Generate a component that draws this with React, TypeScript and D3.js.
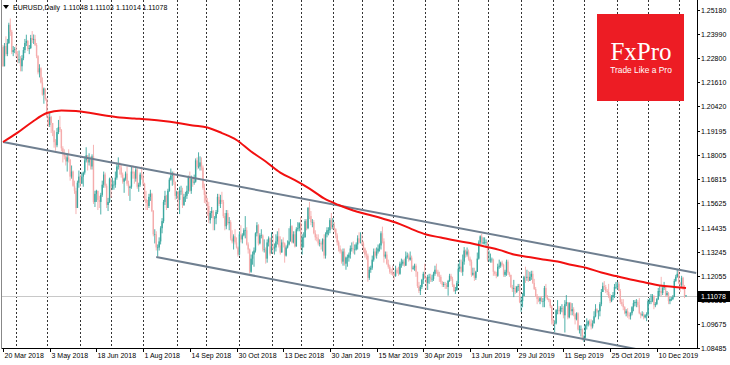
import React, { useEffect, useRef } from 'react';
import * as d3 from 'd3';

// EURUSD daily bars, 20 Mar 2018 .. 9 Jan 2020, prices x 10000
const firstOpen = 12335;

const closes = [
  // 2018
  12240, 12340, 12300, 12355, 12445, 12410, 12310, 12320, 12325,
  12300, 12270, 12275, 12240, 12280, 12320, 12355, 12365, 12325, 12330, 12380, 12370, 12375, 12345, 12290, 12210, 12230, 12160, 12100, 12130, 12078,
  11990, 11950, 11990, 11960, 11920, 11865, 11850, 11915, 11940, 11925, 11835, 11810, 11795, 11770, 11790, 11780, 11695, 11720, 11650, 11625, 11540, 11665, 11695,
  11660, 11695, 11715, 11775, 11800, 11765, 11780, 11745, 11795, 11570, 11610, 11625, 11580, 11570, 11605, 11655, 11705, 11650, 11555, 11570, 11685,
  11640, 11655, 11655, 11690, 11745, 11750, 11740, 11705, 11670, 11685, 11710, 11660, 11640, 11645, 11720, 11710, 11685, 11730, 11645, 11655, 11705, 11690,
  11660, 11585, 11565, 11550, 11595, 11610, 11525, 11410, 11410, 11345, 11345, 11375, 11440, 11475, 11570, 11600, 11540, 11625, 11680, 11700, 11705, 11670, 11600,
  11620, 11580, 11625, 11625, 11555, 11595, 11600, 11625, 11690, 11625, 11685, 11665, 11670, 11775, 11745, 11745, 11765, 11740, 11640, 11605,
  11575, 11550, 11480, 11515, 11525, 11490, 11490, 11520, 11595, 11560, 11580, 11570, 11500, 11450, 11515, 11465, 11470, 11390, 11375, 11400, 11370, 11345, 11310,
  11410, 11385, 11405, 11430, 11430, 11360, 11335, 11225, 11290, 11310, 11330, 11415, 11455, 11365, 11405, 11405, 11335, 11335, 11290, 11370, 11390, 11315,
  11350, 11340, 11345, 11375, 11400, 11355, 11320, 11370, 11365, 11305, 11345, 11360, 11375, 11450, 11370, 11410, 11350, 11435, 11440, 11465,
  // 2019
  11345, 11395, 11395, 11475, 11440, 11540, 11500, 11470, 11470, 11415, 11395, 11390, 11365, 11365, 11360, 11385, 11305, 11410, 11430, 11430, 11480, 11445,
  11455, 11435, 11405, 11370, 11340, 11325, 11275, 11325, 11265, 11295, 11295, 11310, 11340, 11340, 11335, 11335, 11360, 11390, 11370, 11370,
  11365, 11340, 11310, 11305, 11195, 11235, 11245, 11285, 11325, 11305, 11325, 11340, 11355, 11415, 11375, 11300, 11310, 11265, 11250, 11225, 11220,
  11215, 11205, 11235, 11220, 11215, 11265, 11265, 11275, 11255, 11300, 11305, 11285, 11295, 11240, 11245, 11255, 11225, 11155, 11130, 11150, 11185, 11215,
  11195, 11170, 11200, 11200, 11190, 11190, 11215, 11235, 11225, 11205, 11200, 11175, 11160, 11165, 11160, 11150, 11180, 11205, 11190, 11160, 11130, 11135, 11170,
  11240, 11250, 11225, 11275, 11330, 11310, 11325, 11290, 11275, 11210, 11220, 11195, 11225, 11290, 11370, 11400, 11365, 11370, 11370, 11370,
  11285, 11285, 11285, 11285, 11225, 11215, 11205, 11250, 11255, 11270, 11260, 11210, 11225, 11275, 11220, 11210, 11150, 11140, 11145, 11125, 11150, 11155, 11075,
  11080, 11105, 11200, 11195, 11200, 11180, 11200, 11215, 11170, 11140, 11105, 11090, 11080, 11095, 11080, 11080, 11145, 11100, 11090, 11085, 11055, 10985,
  10970, 10970, 11035, 11035, 11030, 11045, 11045, 11010, 11065, 11075, 11000, 11070, 11030, 11040, 11015, 10990, 11020, 10940, 10940, 10940, 10900,
  10900, 10960, 10965, 10980, 10970, 10955, 10970, 11005, 11040, 11030, 11030, 11065, 11125, 11155, 11150, 11130, 11125, 11105, 11080, 11100, 11110, 11150, 11150,
  11165, 11130, 11075, 11065, 11050, 11020, 11030, 11010, 11005, 11020, 11050, 11070, 11075, 11075, 11060, 11020, 11010, 11015, 11000, 11010, 11015,
  11080, 11080, 11080, 11105, 11060, 11065, 11090, 11130, 11130, 11120, 11145, 11150, 11110, 11120, 11080, 11090, 11090, 11100, 11180, 11200, 11215,
  // 2020
  11170, 11160, 11195, 11150, 11105, 11107.8,
];

const highs = [
  12345, 12355, 12388, 12375, 12455, 12476, 12420, 12340, 12335,
  12345, 12315, 12318, 12290, 12295, 12335, 12375, 12396, 12370, 12345, 12395, 12414, 12397, 12395, 12355, 12295, 12250, 12235, 12185, 12135, 12130,
  12085, 12015, 12010, 11995, 11960, 11925, 11880, 11935, 11975, 11995, 11930, 11845, 11830, 11810, 11810, 11830, 11780, 11750, 11725, 11675, 11640, 11675, 11725,
  11705, 11715, 11720, 11795, 11840, 11800, 11810, 11795, 11805, 11852, 11625, 11630, 11625, 11600, 11615, 11675, 11720, 11715, 11660, 11590, 11690,
  11690, 11690, 11675, 11720, 11765, 11790, 11765, 11755, 11715, 11690, 11720, 11745, 11675, 11650, 11745, 11750, 11720, 11745, 11740, 11665, 11715, 11745,
  11710, 11665, 11625, 11580, 11610, 11630, 11615, 11530, 11435, 11425, 11360, 11395, 11450, 11490, 11580, 11625, 11605, 11635, 11690, 11735, 11720, 11720, 11670,
  11625, 11625, 11645, 11650, 11640, 11610, 11620, 11650, 11700, 11720, 11700, 11695, 11705, 11785, 11790, 11815, 11795, 11790, 11750, 11660,
  11625, 11590, 11570, 11525, 11545, 11530, 11500, 11530, 11610, 11610, 11605, 11620, 11580, 11515, 11530, 11530, 11495, 11480, 11430, 11410, 11435, 11395, 11350,
  11425, 11455, 11415, 11440, 11500, 11445, 11370, 11340, 11310, 11325, 11345, 11420, 11470, 11460, 11415, 11435, 11410, 11385, 11345, 11385, 11400, 11395,
  11420, 11410, 11365, 11410, 11425, 11440, 11400, 11385, 11395, 11370, 11355, 11380, 11440, 11485, 11455, 11425, 11425, 11445, 11470, 11470,
  11495, 11410, 11420, 11485, 11485, 11545, 11570, 11525, 11485, 11480, 11430, 11410, 11410, 11385, 11375, 11390, 11410, 11420, 11445, 11445, 11490, 11515,
  11490, 11470, 11440, 11415, 11380, 11355, 11335, 11340, 11340, 11300, 11310, 11320, 11355, 11370, 11375, 11360, 11370, 11405, 11420, 11420,
  11410, 11375, 11345, 11330, 11315, 11250, 11255, 11305, 11340, 11340, 11345, 11360, 11365, 11425, 11448, 11390, 11325, 11325, 11285, 11260, 11240,
  11255, 11225, 11255, 11245, 11250, 11275, 11290, 11285, 11290, 11325, 11320, 11315, 11325, 11305, 11255, 11265, 11265, 11225, 11175, 11160, 11190, 11225,
  11265, 11200, 11210, 11215, 11215, 11210, 11225, 11255, 11265, 11235, 11225, 11210, 11180, 11175, 11175, 11170, 11185, 11215, 11215, 11200, 11165, 11150, 11180,
  11265, 11285, 11285, 11310, 11347, 11335, 11345, 11335, 11300, 11285, 11245, 11245, 11230, 11320, 11380, 11405, 11412, 11395, 11395, 11385,
  11375, 11330, 11315, 11295, 11290, 11230, 11225, 11265, 11285, 11275, 11280, 11265, 11235, 11285, 11285, 11225, 11210, 11160, 11185, 11155, 11155, 11165, 11165,
  11100, 11120, 11205, 11250, 11235, 11230, 11225, 11230, 11230, 11190, 11150, 11115, 11105, 11100, 11105, 11095, 11155, 11165, 11110, 11095, 11090, 11060,
  10995, 10985, 11040, 11085, 11055, 11055, 11065, 11055, 11085, 11110, 11050, 11075, 11075, 11070, 11050, 11020, 11025, 11025, 10960, 10960, 10945,
  10910, 10965, 10995, 10985, 10990, 10990, 10985, 11030, 11065, 11045, 11035, 11075, 11140, 11172, 11179, 11160, 11140, 11165, 11115, 11110, 11125, 11165, 11175,
  11175, 11175, 11140, 11090, 11090, 11055, 11040, 11045, 11025, 11025, 11055, 11085, 11085, 11090, 11085, 11095, 11025, 11030, 11025, 11015, 11025,
  11090, 11095, 11115, 11115, 11110, 11075, 11095, 11145, 11155, 11200, 11160, 11175, 11155, 11130, 11125, 11100, 11100, 11110, 11190, 11210, 11239,
  11230, 11175, 11205, 11200, 11160, 11110.3,
];

const lows = [
  12238, 12240, 12290, 12290, 12350, 12390, 12300, 12290, 12305,
  12285, 12255, 12255, 12215, 12215, 12270, 12305, 12340, 12315, 12300, 12325, 12355, 12350, 12340, 12280, 12200, 12185, 12155, 12095, 12055, 12070,
  11985, 11940, 11940, 11910, 11895, 11838, 11823, 11840, 11905, 11915, 11820, 11765, 11780, 11750, 11720, 11765, 11675, 11685, 11645, 11610, 11510, 11540, 11640,
  11645, 11660, 11645, 11705, 11765, 11725, 11750, 11730, 11730, 11560, 11545, 11570, 11530, 11540, 11508, 11595, 11640, 11640, 11540, 11525, 11565,
  11590, 11630, 11630, 11640, 11680, 11730, 11705, 11690, 11660, 11615, 11675, 11650, 11600, 11575, 11635, 11685, 11660, 11670, 11635, 11620, 11645, 11680,
  11650, 11575, 11530, 11530, 11540, 11575, 11520, 11400, 11365, 11330, 11301, 11330, 11360, 11415, 11465, 11555, 11530, 11540, 11620, 11675, 11650, 11655, 11580,
  11585, 11530, 11510, 11605, 11540, 11550, 11570, 11585, 11610, 11620, 11610, 11645, 11655, 11665, 11730, 11735, 11725, 11725, 11630, 11565,
  11560, 11500, 11465, 11463, 11490, 11430, 11430, 11460, 11510, 11550, 11540, 11560, 11490, 11430, 11435, 11455, 11430, 11380, 11365, 11335, 11360, 11340, 11300,
  11305, 11370, 11365, 11400, 11390, 11355, 11315, 11216, 11220, 11260, 11250, 11320, 11400, 11355, 11360, 11390, 11325, 11320, 11265, 11270, 11350, 11305,
  11335, 11315, 11310, 11325, 11360, 11345, 11310, 11320, 11345, 11270, 11300, 11340, 11355, 11385, 11365, 11365, 11345, 11360, 11425, 11425,
  11335, 11310, 11345, 11395, 11430, 11435, 11485, 11455, 11445, 11410, 11380, 11375, 11355, 11350, 11335, 11325, 11290, 11290, 11395, 11405, 11415, 11435,
  11435, 11420, 11390, 11355, 11325, 11315, 11265, 11255, 11255, 11235, 11250, 11275, 11290, 11325, 11315, 11310, 11330, 11335, 11365, 11365,
  11355, 11320, 11295, 11285, 11176, 11185, 11220, 11235, 11275, 11295, 11290, 11315, 11325, 11335, 11365, 11270, 11290, 11260, 11240, 11215, 11210,
  11205, 11183, 11200, 11215, 11205, 11210, 11245, 11255, 11250, 11260, 11290, 11275, 11280, 11225, 11235, 11230, 11200, 11145, 11120, 11110, 11140, 11165,
  11190, 11135, 11135, 11165, 11175, 11175, 11180, 11205, 11215, 11200, 11175, 11165, 11150, 11150, 11140, 11140, 11107, 11175, 11180, 11150, 11125, 11115, 11130,
  11165, 11225, 11220, 11205, 11260, 11295, 11300, 11280, 11255, 11200, 11205, 11180, 11185, 11225, 11285, 11360, 11360, 11360, 11360, 11345,
  11275, 11275, 11270, 11270, 11205, 11205, 11193, 11200, 11240, 11245, 11250, 11200, 11200, 11205, 11210, 11200, 11145, 11125, 11100, 11115, 11120, 11130, 11070,
  11027, 11050, 11105, 11170, 11180, 11175, 11185, 11185, 11165, 11135, 11100, 11065, 11075, 11065, 11075, 11050, 11050, 11095, 11085, 11075, 11045, 10965,
  10960, 10926, 10965, 11015, 11015, 11015, 11025, 10995, 10925, 11055, 10990, 10995, 11010, 11010, 11005, 10965, 10985, 10935, 10920, 10905, 10885,
  10879, 10895, 10940, 10955, 10960, 10940, 10945, 10975, 11000, 11020, 10990, 11005, 11055, 11125, 11135, 11120, 11110, 11095, 11070, 11075, 11085, 11095, 11140,
  11135, 11130, 11065, 11055, 11035, 11015, 11005, 10998, 10990, 10989, 11010, 11030, 11055, 11050, 11050, 11015, 10995, 11005, 10990, 10995, 10981,
  11005, 11065, 11065, 11075, 11040, 11050, 11060, 11085, 11105, 11105, 11110, 11135, 11100, 11105, 11065, 11065, 11080, 11085, 11100, 11175, 11195,
  11165, 11125, 11150, 11135, 11095, 11101.4,
];

// 200-day moving average, read every 10 bars (last one at the final bar)
const maBars = [...d3.range(0, 461, 10), 468];
const maValues = [
  1.1866, 1.1912, 1.1965, 1.2009, 1.2022, 1.2019, 1.2009, 1.1997, 1.1987, 1.1982,
  1.1977, 1.1970, 1.1960, 1.1948, 1.1938, 1.1910, 1.1876, 1.1819, 1.1770, 1.1715,
  1.1678, 1.1636, 1.1587, 1.1555, 1.1528, 1.1508, 1.1488, 1.1466, 1.1436, 1.1409,
  1.1394, 1.1379, 1.1367, 1.1350, 1.1333, 1.1310, 1.1298, 1.1286, 1.1276, 1.1258,
  1.1244, 1.1221, 1.1204, 1.1187, 1.1172, 1.1157, 1.1150, 1.1145,
];

// trend channel: [bar index, price]
const upperChannel = [[0, 1.1866], [475, 1.1219]];
const lowerChannel = [[105, 1.1298], [437, 1.0839]];

const priceTicks = ['1.25180', '1.23990', '1.22800', '1.21610', '1.20420', '1.19195', '1.18005', '1.16815',
  '1.15625', '1.14435', '1.13245', '1.12055', '1.10865', '1.09675', '1.08485'];
const dateTicks = ['20 Mar 2018', '3 May 2018', '18 Jun 2018', '1 Aug 2018', '14 Sep 2018', '30 Oct 2018',
  '13 Dec 2018', '30 Jan 2019', '15 Mar 2019', '30 Apr 2019', '13 Jun 2019', '29 Jul 2019', '11 Sep 2019',
  '25 Oct 2019', '10 Dec 2019'];

const lastPrice = '1.11078';
const headerSymbol = 'EURUSD,Daily';
const headerQuotes = ['1.11048', '1.11103', '1.11014', '1.11078'];

const W = 730;
const H = 365;
const FONT = '"Liberation Sans", Arial, sans-serif';
const BULL = '#3aa79f';
const BEAR = '#f5acac';

// trading calendar (no weekends, no 25 Dec / 1 Jan)
const tradingDays = (start, count) => {
  const out = [];
  const d = new Date(start);
  while (out.length < count) {
    const wd = d.getUTCDay();
    const md = d.getUTCMonth() * 100 + d.getUTCDate();
    if (wd !== 0 && wd !== 6 && md !== 1125 && md !== 1) out.push(new Date(d));
    d.setUTCDate(d.getUTCDate() + 1);
  }
  return out;
};

const App = () => {
  const svgRef = useRef(null);

  useEffect(() => {
    const svg = d3.select(svgRef.current);
    svg.selectAll('*').remove();

    const plot = { left: 2, right: 697, top: 0, bottom: 348 };
    const n = closes.length;
    const dates = tradingDays(Date.UTC(2018, 2, 20), n);

    const bars = closes.map((c, i) => ({
      open: (i === 0 ? firstOpen : closes[i - 1]) / 1e4,
      close: c / 1e4,
      high: highs[i] / 1e4,
      low: lows[i] / 1e4,
    }));

    const x = d3.scaleLinear().domain([0, n - 1]).range([3, 686]);
    const y = d3.scaleLinear().domain([1.08485, 1.2518]).range([348, 10]);

    svg.append('rect').attr('width', W).attr('height', H).attr('fill', '#fff');

    const defs = svg.append('defs');
    defs.append('clipPath').attr('id', 'plotClip')
      .append('rect')
      .attr('x', plot.left).attr('y', plot.top)
      .attr('width', plot.right - plot.left).attr('height', plot.bottom - plot.top);

    // monthly separators
    const monthStarts = dates.map((d, i) => i).filter(i => i > 0 && dates[i].getUTCMonth() !== dates[i - 1].getUTCMonth());
    svg.append('g').selectAll('line').data(monthStarts).enter().append('line')
      .attr('x1', i => Math.round(x(i)) + 0.5).attr('x2', i => Math.round(x(i)) + 0.5)
      .attr('y1', plot.top).attr('y2', plot.bottom)
      .attr('stroke', '#333').attr('stroke-width', 1).attr('stroke-dasharray', '2,2');

    // logo
    const logo = svg.append('g');
    logo.append('rect').attr('x', 597).attr('y', 14).attr('width', 87).attr('height', 87).attr('fill', '#ed1c24');
    logo.append('text').attr('x', 641).attr('y', 60).attr('text-anchor', 'middle')
      .attr('font-family', '"Liberation Serif", "Times New Roman", serif').attr('font-size', 25)
      .attr('fill', '#fff').text('FxPro');
    logo.append('text').attr('x', 641).attr('y', 73).attr('text-anchor', 'middle')
      .attr('font-family', FONT).attr('font-size', 8.4).attr('fill', '#fff').text('Trade Like a Pro');

    // current price line
    svg.append('line')
      .attr('x1', plot.left).attr('x2', plot.right)
      .attr('y1', Math.round(y(+lastPrice)) + 0.5).attr('y2', Math.round(y(+lastPrice)) + 0.5)
      .attr('stroke', '#c8c8c8').attr('stroke-width', 1);

    const g = svg.append('g').attr('clip-path', 'url(#plotClip)');

    // candles
    const candle = g.selectAll('.candle').data(bars).enter().append('g').attr('class', 'candle');
    candle.append('line')
      .attr('x1', (d, i) => x(i)).attr('x2', (d, i) => x(i))
      .attr('y1', d => y(Math.max(d.high, d.open, d.close)))
      .attr('y2', d => y(Math.min(d.low, d.open, d.close)))
      .attr('stroke', d => (d.close >= d.open ? BULL : BEAR)).attr('stroke-width', 0.9);
    candle.append('rect')
      .attr('x', (d, i) => x(i) - 0.7).attr('width', 1.4)
      .attr('y', d => y(Math.max(d.open, d.close)))
      .attr('height', d => Math.max(0.6, Math.abs(y(d.open) - y(d.close))))
      .attr('fill', d => (d.close >= d.open ? BULL : BEAR));

    // channel
    const chLine = d3.line().x(d => x(d[0])).y(d => y(d[1]));
    [upperChannel, lowerChannel].forEach(ch => {
      g.append('path').attr('d', chLine(ch)).attr('fill', 'none')
        .attr('stroke', '#6f7f90').attr('stroke-width', 2);
    });

    // moving average
    const ma = d3.line().x((d, k) => x(maBars[k])).y(d => y(d)).curve(d3.curveMonotoneX);
    g.append('path').attr('d', ma(maValues)).attr('fill', 'none')
      .attr('stroke', '#f21010').attr('stroke-width', 2);

    // frame
    svg.append('line').attr('x1', plot.right + 0.5).attr('x2', plot.right + 0.5)
      .attr('y1', 0).attr('y2', plot.bottom + 0.5).attr('stroke', '#000');
    svg.append('line').attr('x1', plot.left - 0.5).attr('x2', plot.right + 0.5)
      .attr('y1', plot.bottom + 0.5).attr('y2', plot.bottom + 0.5).attr('stroke', '#000');
    svg.append('line').attr('x1', plot.left - 0.5).attr('x2', plot.left - 0.5)
      .attr('y1', 0).attr('y2', plot.bottom + 0.5).attr('stroke', '#888');

    // price axis; labels hidden by the last-price box are clipped beneath it
    const ly = Math.round(y(+lastPrice));
    defs.append('clipPath').attr('id', 'axisClip')
      .append('path')
      .attr('d', `M${plot.right},0 H${W} V${ly - 5} H${plot.right} Z M${plot.right},${ly + 6} H${W} V${H} H${plot.right} Z`);
    const pa = svg.append('g');
    const paLabels = pa.append('g').attr('clip-path', 'url(#axisClip)');
    priceTicks.forEach(t => {
      const py = Math.round(y(+t)) + 0.5;
      pa.append('line').attr('x1', plot.right).attr('x2', plot.right + 3)
        .attr('y1', py).attr('y2', py).attr('stroke', '#000');
      paLabels.append('text').attr('x', plot.right + 4).attr('y', py + 2.5)
        .attr('font-family', FONT).attr('font-size', 7).attr('fill', '#000').text(t);
    });
    pa.append('rect').attr('x', plot.right + 1).attr('y', ly - 5).attr('width', W - plot.right - 1).attr('height', 11)
      .attr('fill', '#000');
    pa.append('text').attr('x', plot.right + 4).attr('y', ly + 3)
      .attr('font-family', FONT).attr('font-size', 7).attr('fill', '#fff').text(lastPrice);

    // time axis
    const parse = d3.utcParse('%d %b %Y');
    const ta = svg.append('g');
    dateTicks.forEach(t => {
      const dt = parse(t);
      const idx = dates.findIndex(d => d.getTime() === dt.getTime());
      if (idx < 0) return;
      const tx = Math.round(x(idx)) + 0.5;
      ta.append('line').attr('x1', tx).attr('x2', tx).attr('y1', plot.bottom).attr('y2', plot.bottom + 4)
        .attr('stroke', '#000');
      ta.append('text').attr('x', tx + 1).attr('y', 358)
        .attr('font-family', FONT).attr('font-size', 7).attr('fill', '#000').text(t);
    });

    // header
    svg.append('path').attr('d', 'M3,5 L9,5 L6,9 Z').attr('fill', '#000');
    const hdr = svg.append('text').attr('y', 10)
      .attr('font-family', FONT).attr('font-size', 7).attr('fill', '#000');
    hdr.append('tspan').attr('x', 13).text(headerSymbol);
    headerQuotes.forEach((q, k) => {
      hdr.append('tspan').attr('x', 63 + k * 26.5).text(q);
    });
  }, []);

  return (
    <svg ref={svgRef} width={W} height={H}
      style={{ position: 'absolute', left: 0, top: 0, display: 'block' }} />
  );
};

export default App;
